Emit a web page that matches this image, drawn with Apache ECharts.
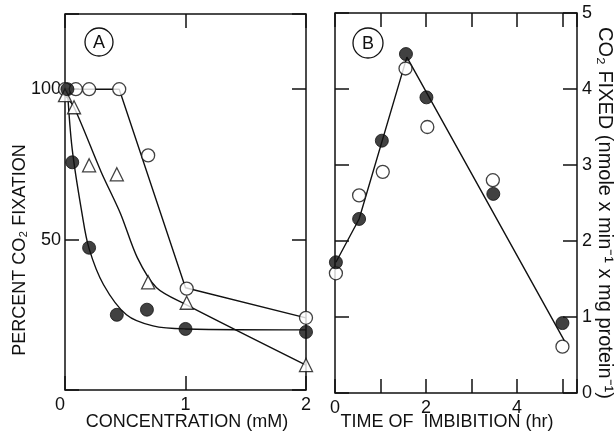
<!DOCTYPE html>
<html>
<head>
<meta charset="utf-8">
<script src="https://cdn.jsdelivr.net/npm/echarts@6/dist/echarts.min.js"></script>
<style>
  html, body { margin: 0; padding: 0; background: #fff; }
  #chart { width: 614px; height: 433px; }
</style>
</head>
<body>
<div id="chart"></div>
<script>
// panel A: percent CO2 fixation vs concentration (mM)
var aFilledX = [0.02, 0.06, 0.2, 0.43, 0.68, 1.0, 2.0];
var aFilledY = [100, 75.7, 47.3, 25, 26.7, 20.3, 19.3];
var aOpenX = [0, 0.09, 0.2, 0.45, 0.69, 1.01, 2.0];
var aOpenY = [100, 100, 100, 100, 78, 33.7, 24];
var aTriX = [0, 0.075, 0.2, 0.43, 0.69, 1.01, 2.0];
var aTriY = [98, 94, 74.7, 71.7, 35.8, 29, 8.3];
// fitted curves
var aFilledFit = [[0.02, 100], [0.06, 80], [0.14, 59], [0.2, 47], [0.32, 35], [0.51, 25], [0.73, 21.3], [1.0, 20.3], [2.0, 20]];
var aTriFit = [[0, 98], [0.075, 94], [0.3, 72.5], [0.46, 58.7], [0.6, 44], [0.76, 34], [1.0, 28.5], [2.0, 8.3]];
var aOpenFit = [[0, 100], [0.45, 100], [1.0, 34], [2.0, 24]];

// panel B: CO2 fixed vs time of imbibition (hr)
var bFilledX = [0.02, 0.53, 1.03, 1.56, 2.01, 3.48, 5.0];
var bFilledY = [1.72, 2.29, 3.32, 4.46, 3.89, 2.62, 0.92];
var bOpenX = [0.02, 0.53, 1.05, 1.55, 2.03, 3.47, 5.0];
var bOpenY = [1.575, 2.6, 2.91, 4.27, 3.5, 2.8, 0.61];
var bFit = [[0.02, 1.72], [0.53, 2.29], [1.58, 4.42], [5.05, 0.68]];

function pairs(xs, ys) {
    return xs.map(function (x, i) { return [x, ys[i]]; });
}

var chart = echarts.init(document.getElementById('chart'));
var font = 'Liberation Sans';
var black = '#111';

// ticks point into the plot; axis lines come from the grid border
var tickIn = { show: true, inside: true, length: 14, lineStyle: { color: black, width: 1.5 } };
var noLine = { show: false, onZero: false };
var labelStyle = { color: black, fontFamily: font, fontSize: 18 };

var fitLine = { color: black, width: 1.4 };
var filledSym = { color: black, borderColor: black, borderWidth: 1 };
var openSym = { color: '#fff', borderColor: black, borderWidth: 1.3 };

var option = {
    backgroundColor: '#fff',
    animation: false,
    grid: [
        { left: 65, top: 14, width: 241, height: 376, show: true, borderColor: black, borderWidth: 1.5 },
        { left: 335, top: 13, width: 242, height: 380, show: true, borderColor: black, borderWidth: 1.5 }
    ],
    xAxis: [
        {
            gridIndex: 0, type: 'value', min: 0, max: 2, interval: 1,
            axisLine: noLine, splitLine: { show: false }, axisTick: tickIn,
            axisLabel: Object.assign({ margin: 6, alignMinLabel: 'right' }, labelStyle)
        },
        {
            gridIndex: 0, type: 'value', position: 'top', min: 0, max: 2, interval: 1,
            axisLine: noLine, splitLine: { show: false }, axisTick: tickIn,
            axisLabel: { show: false }
        },
        {
            gridIndex: 1, type: 'value', min: 0, max: 5.32, interval: 1,
            axisLine: noLine, splitLine: { show: false }, axisTick: tickIn,
            axisLabel: Object.assign({
                margin: 6,
                formatter: function (v) { return v % 2 === 0 ? String(v) : ''; }
            }, labelStyle)
        },
        {
            gridIndex: 1, type: 'value', position: 'top', min: 0, max: 5.32, interval: 1,
            axisLine: noLine, splitLine: { show: false }, axisTick: tickIn,
            axisLabel: { show: false }
        }
    ],
    yAxis: [
        {
            gridIndex: 0, type: 'value', min: 0, max: 125, interval: 50,
            axisLine: noLine, splitLine: { show: false }, axisTick: tickIn,
            axisLabel: Object.assign({
                margin: 4,
                formatter: function (v) { return (v === 50 || v === 100) ? String(v) : ''; }
            }, labelStyle)
        },
        {
            gridIndex: 0, type: 'value', position: 'right', min: 0, max: 125, interval: 50,
            axisLine: noLine, splitLine: { show: false }, axisTick: tickIn,
            axisLabel: { show: false }
        },
        {
            gridIndex: 1, type: 'value', position: 'right', min: 0, max: 5, interval: 1,
            axisLine: noLine, splitLine: { show: false }, axisTick: tickIn,
            axisLabel: Object.assign({ margin: 5 }, labelStyle)
        },
        {
            gridIndex: 1, type: 'value', position: 'left', min: 0, max: 5, interval: 1,
            axisLine: noLine, splitLine: { show: false }, axisTick: tickIn,
            axisLabel: { show: false }
        }
    ],
    series: [
        // panel A fitted lines
        { type: 'line', xAxisIndex: 0, yAxisIndex: 0, data: aFilledFit, smooth: 0.35, showSymbol: false, lineStyle: fitLine, z: 1 },
        { type: 'line', xAxisIndex: 0, yAxisIndex: 0, data: aTriFit, smooth: 0.3, showSymbol: false, lineStyle: fitLine, z: 1 },
        { type: 'line', xAxisIndex: 0, yAxisIndex: 0, data: aOpenFit, showSymbol: false, lineStyle: fitLine, z: 1 },
        // panel A points
        { type: 'scatter', xAxisIndex: 0, yAxisIndex: 0, data: pairs(aOpenX, aOpenY), symbol: 'circle', symbolSize: 13, itemStyle: openSym, z: 3 },
        { type: 'scatter', xAxisIndex: 0, yAxisIndex: 0, data: pairs(aTriX, aTriY), symbol: 'triangle', symbolSize: 13, itemStyle: openSym, z: 4 },
        { type: 'scatter', xAxisIndex: 0, yAxisIndex: 0, data: pairs(aFilledX, aFilledY), symbol: 'circle', symbolSize: 13, itemStyle: filledSym, z: 5 },
        // panel B
        { type: 'line', xAxisIndex: 2, yAxisIndex: 2, data: bFit, showSymbol: false, lineStyle: fitLine, z: 1 },
        { type: 'scatter', xAxisIndex: 2, yAxisIndex: 2, data: pairs(bOpenX, bOpenY), symbol: 'circle', symbolSize: 13, itemStyle: openSym, z: 3 },
        { type: 'scatter', xAxisIndex: 2, yAxisIndex: 2, data: pairs(bFilledX, bFilledY), symbol: 'circle', symbolSize: 13, itemStyle: filledSym, z: 5 }
    ],
    graphic: [
        // circled panel letters
        { type: 'circle', shape: { cx: 99, cy: 42, r: 14 }, style: { fill: 'none', stroke: black, lineWidth: 1.3 } },
        { type: 'text', x: 99, y: 43, style: { text: 'A', fill: black, font: '18px "Liberation Sans"', align: 'center', verticalAlign: 'middle' } },
        { type: 'circle', shape: { cx: 368, cy: 43, r: 15 }, style: { fill: 'none', stroke: black, lineWidth: 1.3 } },
        { type: 'text', x: 368, y: 44, style: { text: 'B', fill: black, font: '18px "Liberation Sans"', align: 'center', verticalAlign: 'middle' } },
        // axis titles
        { type: 'text', x: 187, y: 422, style: { text: 'CONCENTRATION (mM)', fill: black, font: '18px "Liberation Sans"', align: 'center', verticalAlign: 'middle' } },
        { type: 'text', x: 447, y: 422, style: { text: 'TIME OF  IMBIBITION (hr)', fill: black, font: '18px "Liberation Sans"', align: 'center', verticalAlign: 'middle' } },
        { type: 'text', x: 20, y: 250, rotation: Math.PI / 2, style: { text: 'PERCENT CO₂ FIXATION', fill: black, font: '18px "Liberation Sans"', align: 'center', verticalAlign: 'middle' } },
        { type: 'text', x: 605, y: 213, rotation: -Math.PI / 2, style: { text: 'CO₂ FIXED (nmole x min⁻¹ x mg protein⁻¹)', fill: black, font: '20px "Liberation Sans"', align: 'center', verticalAlign: 'middle' } }
    ]
};

chart.setOption(option);
</script>
</body>
</html>
